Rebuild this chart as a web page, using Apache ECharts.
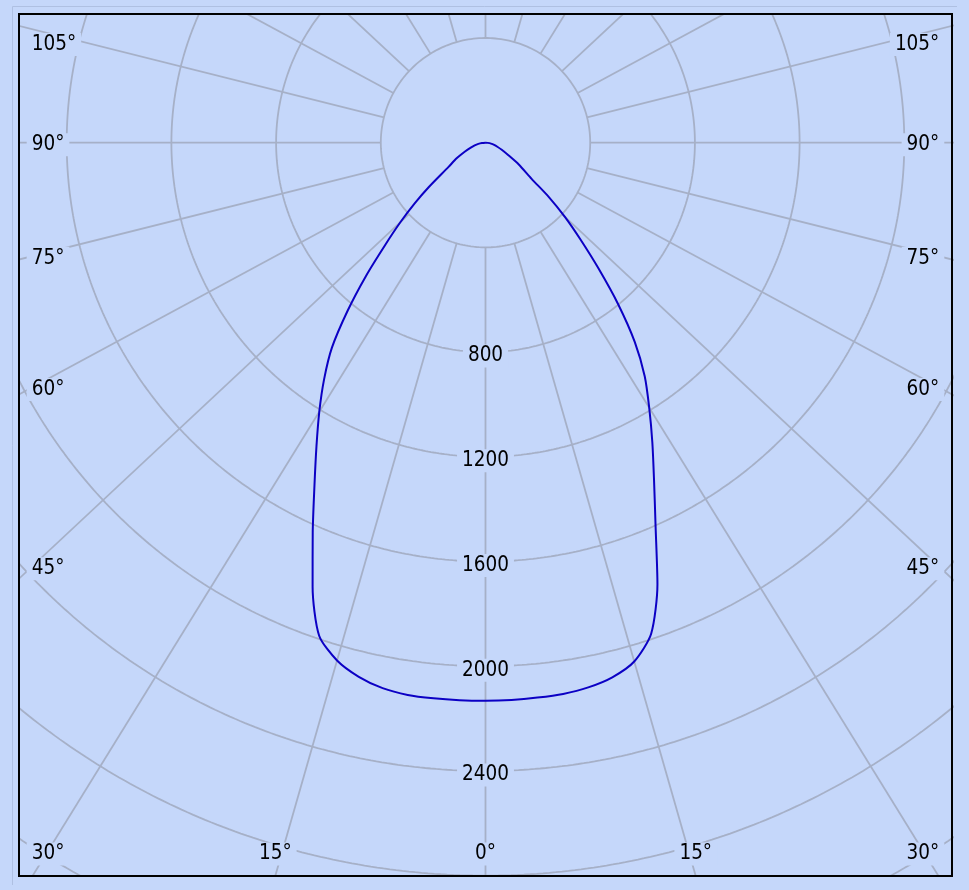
<!DOCTYPE html>
<html>
<head>
<meta charset="utf-8">
<script src="https://cdn.jsdelivr.net/npm/echarts@6/dist/echarts.min.js"></script>
<style>
html,body{margin:0;padding:0;background:#C5D7FA;}
#chart{width:969px;height:890px;}
</style>
</head>
<body>
<div id="chart"></div>
<script>
// ---------------- data ----------------
// gamma angle measured from nadir (0° = straight down), degrees
const gammaAngles = [0, 2.5, 5, 7.5, 10, 12.5, 15, 17.5, 20, 22.5, 25, 27.5, 30, 32.5, 35, 37.5, 40, 42.5, 45, 47.5, 50, 55, 60, 65, 70, 75, 80, 85, 90];
// luminous intensity, right half of the diagram (C0 plane)
const intensityC0 = [2132, 2131, 2128, 2124, 2113, 2092, 2052, 1967, 1795, 1587, 1424, 1290, 1169, 1058, 929, 778, 628, 502, 401, 306, 215, 145, 92, 64, 45, 32, 20, 8, 0];
// luminous intensity, left half of the diagram (C180 plane)
const intensityC180 = [2132, 2132, 2131, 2128, 2116, 2090, 2048, 1975, 1805, 1612, 1445, 1307, 1187, 1073, 956, 808, 663, 531, 430, 342, 265, 161, 119, 82, 56, 40, 26, 13, 0];
// radial scale rings (cd) and the ones carrying a label
const ringValues = [400, 800, 1200, 1600, 2000, 2400, 2800, 3200];
const ringLabelValues = [800, 1200, 1600, 2000, 2400];
// angular grid spokes (degrees from nadir, clockwise towards the right)
const spokeAngles = [0, 15, 30, 45, 60, 75, 90, 105, 120, 135, 150, 165, 180, 195, 210, 225, 240, 255, 270, 285, 300, 315, 330, 345];

// ---------------- layout / style ----------------
const BG = '#C5D7FA';
const GRID_COLOR = '#A6B0C7';
const CURVE_COLOR = '#0C00C4';
const FONT = '20.5px "DejaVu Sans Condensed", "Liberation Sans", Arial, sans-serif';
const BOX = {left: 19, top: 14, right: 952, bottom: 876};
const CX = 485.5, CY = 142.7;          // pole position in pixels
const PX_PER_CD = 104.7 / 400;         // vertical scale
const X_STRETCH = 1.07;                // horizontal scale factor of the angular grid / curve
const LABEL_INSET = 12.7;
const PAD = [3, 5];
const TEXT_DY = 2;                     // baseline correction

const xPx = PX_PER_CD * X_STRETCH;
const xMin = (BOX.left - CX) / xPx, xMax = (BOX.right - CX) / xPx;
const yMin = -(CY - BOX.top) / PX_PER_CD, yMax = (BOX.bottom - CY) / PX_PER_CD;
const rad = d => d * Math.PI / 180;

const series = [];
ringValues.forEach(r => {
  const pts = [];
  for (let a = 0; a <= 360; a += 0.5) pts.push([r * Math.sin(rad(a)) / X_STRETCH, r * Math.cos(rad(a))]);
  series.push({type: 'line', data: pts, symbol: 'none', silent: true, animation: false, z: 1,
    lineStyle: {color: GRID_COLOR, width: 1.8}});
});
spokeAngles.forEach(a => {
  const t = rad(a), s = Math.sin(t), c = Math.cos(t);
  const s0 = ringValues[0] / Math.sqrt((X_STRETCH * s) ** 2 + c ** 2);
  const s1 = 8000;
  series.push({type: 'line', data: [[s0 * s, s0 * c], [s1 * s, s1 * c]], symbol: 'none', silent: true, animation: false, z: 1,
    lineStyle: {color: GRID_COLOR, width: 1.8}});
});
const curve = [];
for (let i = gammaAngles.length - 1; i >= 0; i--) {
  const t = rad(gammaAngles[i]);
  curve.push([-intensityC180[i] * Math.sin(t), intensityC180[i] * Math.cos(t)]);
}
for (let i = 1; i < gammaAngles.length; i++) {
  const t = rad(gammaAngles[i]);
  curve.push([intensityC0[i] * Math.sin(t), intensityC0[i] * Math.cos(t)]);
}
series.push({type: 'line', data: curve, symbol: 'none', smooth: 0.25, silent: true, animation: false, z: 5,
  lineStyle: {color: CURVE_COLOR, width: 2}});

const chart = echarts.init(document.getElementById('chart'));
chart.setOption({
  backgroundColor: BG,
  animation: false,
  grid: {left: BOX.left, top: BOX.top, width: BOX.right - BOX.left, height: BOX.bottom - BOX.top, show: false},
  xAxis: {type: 'value', min: xMin, max: xMax, show: false},
  yAxis: {type: 'value', min: yMin, max: yMax, inverse: true, show: false},
  series: series
});

// ---------------- labels & frame ----------------
const ctx = document.createElement('canvas').getContext('2d');
ctx.font = FONT;
const tw = s => ctx.measureText(s).width;
const toPx = (x, y) => chart.convertToPixel({gridIndex: 0}, [x, y]);

function textEl(text, x, y, align) {
  return {type: 'text', x: x, y: y + TEXT_DY, z: 100, silent: true,
    style: {text: text, font: FONT, fill: '#000', align: align, verticalAlign: 'middle',
      textAlign: align, textVerticalAlign: 'middle',
      backgroundColor: BG, padding: PAD, lineHeight: 17}};
}

const graphics = [];
const o = toPx(0, 0);
spokeAngles.forEach(a => {
  const t = rad(a);
  const p = toPx(1000 * Math.sin(t), 1000 * Math.cos(t));
  const dx = p[0] - o[0], dy = p[1] - o[1];
  let best = Infinity, edge = null;
  if (dx < -1e-9) { const k = (BOX.left - o[0]) / dx; if (k < best) { best = k; edge = 'left'; } }
  if (dx > 1e-9) { const k = (BOX.right - o[0]) / dx; if (k < best) { best = k; edge = 'right'; } }
  if (dy > 1e-9) { const k = (BOX.bottom - o[1]) / dy; if (k < best) { best = k; edge = 'bottom'; } }
  if (dy < -1e-9) { const k = (BOX.top - o[1]) / dy; if (k < best) { best = k; edge = 'top'; } }
  const label = (a <= 180 ? a : 360 - a) + '°';
  const w = tw(label);
  if (edge === 'bottom') {
    let cx = o[0] + dx * best;
    cx = Math.max(BOX.left + LABEL_INSET + w / 2, Math.min(BOX.right - LABEL_INSET - w / 2, cx));
    graphics.push(textEl(label, cx, BOX.bottom - 24, 'center'));
  } else if (edge === 'left' || edge === 'right') {
    const lx = edge === 'left' ? BOX.left + LABEL_INSET : BOX.right - LABEL_INSET;
    let cy = o[1] + dy * ((lx - o[0]) / dx);
    cy = Math.max(BOX.top + 28.5, cy);
    graphics.push(textEl(label, edge === 'left' ? lx - PAD[1] : lx + PAD[1], cy, edge === 'left' ? 'left' : 'right'));
  }
});
ringLabelValues.forEach(r => {
  const p = toPx(0, r);
  graphics.push(textEl(String(r), p[0], p[1] + 2, 'center'));
});
graphics.push({type: 'rect', z: 90, silent: true,
  shape: {x: BOX.left, y: BOX.top, width: BOX.right - BOX.left, height: BOX.bottom - BOX.top},
  style: {fill: null, stroke: '#000', lineWidth: 2}});
graphics.push({type: 'line', z: 90, silent: true, shape: {x1: 12.5, y1: 6.5, x2: 957, y2: 6.5}, style: {stroke: '#AFC0E2', lineWidth: 1}});
graphics.push({type: 'line', z: 90, silent: true, shape: {x1: 12.5, y1: 6.5, x2: 12.5, y2: 885}, style: {stroke: '#AFC0E2', lineWidth: 1}});
chart.setOption({graphic: {elements: graphics}});
</script>
</body>
</html>
